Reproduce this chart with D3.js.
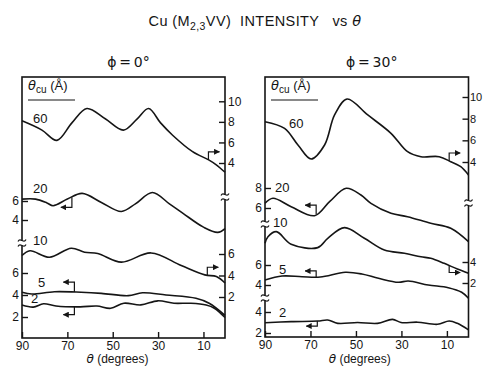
<!DOCTYPE html>
<html>
<head>
<meta charset="utf-8">
<script src="https://cdn.jsdelivr.net/npm/d3@7"></script>
<style>
  body { margin: 0; background: #fff; }
  svg { font-family: "Liberation Sans", Arial, sans-serif; }
</style>
</head>
<body>
<svg id="chart" width="483" height="366"></svg>
<script>
// theta (degrees) and intensity

// phi = 0
const th0_60 = [90, 81.2, 74.6, 68.0, 61.4, 53.3, 45.3, 39.2, 34.2, 28.9, 23.6, 14.8, 7.7, 4.2, 0.5];
const i0_60  = [8.1, 7.2, 6.2, 7.9, 9.3, 8.3, 7.2, 8.3, 9.3, 7.9, 6.7, 5.1, 4.3, 3.8, 3.1];
const th0_20 = [90, 84, 79, 76.3, 70, 63.5, 55, 46.2, 40, 32.5, 25, 19, 10, 3.7, 0.5];
const i0_20  = [6.2, 6.2, 5.8, 5.5, 6.2, 6.8, 5.85, 4.9, 5.7, 6.9, 5.7, 4.7, 3.25, 2.7, 3.1];
const th0_10 = [90, 86.5, 77.9, 68.3, 62.4, 56.6, 46.2, 33.1, 19.8, 9.4, 4.3, 0.5];
const i0_10  = [5.86, 6.3, 5.7, 6.54, 6.17, 6.05, 5.24, 6.1, 4.93, 4.06, 3.9, 3.3];
const th0_5  = [90, 85.7, 75.7, 63.9, 55, 43.1, 36.9, 26.5, 13.3, 7.5, 0.5];
const i0_5   = [4.25, 4.09, 4.3, 4.25, 4.15, 3.94, 4.2, 4.0, 3.7, 3.25, 2.15];
const th0_2  = [90, 85, 80.5, 75, 64.3, 57, 50.9, 45.1, 37.6, 30.1, 23, 15.5, 8.8, 5.2, 0.5];
const i0_2   = [3.09, 2.9, 3.2, 3.0, 2.92, 3.0, 2.79, 3.25, 3.1, 3.47, 3.25, 3.25, 3.09, 2.8, 1.95];

// phi = 30
const th30_60 = [90, 81.4, 75.5, 69.7, 63.8, 59.4, 53.9, 44.8, 34.6, 27.3, 21.4, 13.4, 8.3, 3.9, 0.5];
const i30_60  = [7.72, 7.1, 5.57, 4.28, 5.57, 8.34, 9.82, 8.34, 6.65, 4.95, 4.49, 4.49, 4.03, 3.57, 2.8];
const th30_20 = [90, 86.5, 78.5, 68.2, 61.6, 54.3, 47.8, 43.4, 34.6, 27.3, 17.1, 8.3, 0.5];
const i30_20  = [6.47, 6.97, 6.13, 5.23, 6.63, 7.97, 7.3, 6.47, 5.47, 5.13, 4.47, 3.97, 2.63];
const th30_10 = [90, 88.7, 85, 78.5, 66.8, 62.4, 55, 46.3, 37.5, 28.7, 21.4, 17.1, 11.2, 5.4, 0.5];
const i30_10  = [5.78, 6.4, 6.89, 5.69, 5.37, 6.26, 7.27, 6.26, 5.14, 4.83, 4.5, 4.35, 3.87, 3.33, 2.92];
const th30_5  = [90, 82.5, 73.7, 65.7, 54.7, 47.4, 40.1, 31.3, 27, 18.2, 9.4, 3.5, 0.5];
const i30_5   = [4.5, 4.9, 4.83, 4.8, 5.27, 5.1, 4.67, 4.27, 4.4, 4.0, 3.73, 3.27, 2.67];
const th30_2  = [90, 78.5, 66.8, 62.4, 58, 49.3, 40.5, 33.9, 30.2, 22.9, 14.1, 9, 5.4, 0.5];
const i30_2   = [2.98, 3.08, 3.14, 3.24, 2.92, 3.0, 2.92, 3.3, 3.0, 3.03, 2.83, 3.14, 2.92, 2.29];

const thetaTicks = [90, 70, 50, 30, 10];
const thetaDomain = [90, 0.5];

const svg = d3.select('#chart');
const ink = '#151515';
const fmt = d3.format('d');

svg.append('defs').append('marker')
  .attr('id', 'head').attr('viewBox', '0 0 10 10')
  .attr('refX', 9).attr('refY', 5)
  .attr('markerWidth', 6).attr('markerHeight', 6)
  .attr('markerUnits', 'userSpaceOnUse')
  .attr('orient', 'auto')
  .append('path').attr('d', 'M0,0L10,5L0,10Z').attr('fill', ink);

// title
const title = svg.append('text')
  .attr('x', 255).attr('y', 26)
  .attr('text-anchor', 'middle')
  .attr('font-size', 14.5)
  .attr('letter-spacing', 0.4)
  .attr('fill', ink)
  .attr('xml:space', 'preserve');
title.append('tspan').text('Cu (M');
title.append('tspan').attr('font-size', 10.5).attr('dy', 4).text('2,3');
title.append('tspan').attr('dy', -4).text('VV)  INTENSITY   vs ');
title.append('tspan').attr('font-style', 'italic').attr('font-family', 'DejaVu Sans').text('θ');

const panels = [
  {
    phi: '0°', x0: 22, x1: 225, top: 77, bottom: 338,
    scales: {
      a: { dom: [4, 10], rng: [163, 101.3], side: 'right', ticks: [4, 6, 8, 10] },
      b: { dom: [4, 6], rng: [220, 201], side: 'left', ticks: [4, 6] },
      c: { dom: [2, 6], rng: [297, 254], side: 'right', ticks: [2, 4, 6] },
      d: { dom: [2, 6], rng: [317, 273], side: 'left', ticks: [2, 4, 6] }
    },
    curves: [
      { name: '60', th: th0_60, v: i0_60, s: 'a', lab: [33, 123], arr: [7.8, -8, 1] },
      { name: '20', th: th0_20, v: i0_20, s: 'b', lab: [33, 193], arr: [68, 10, -1] },
      { name: '10', th: th0_10, v: i0_10, s: 'c', lab: [33, 245], arr: [8.3, -8, 1] },
      { name: '5', th: th0_5, v: i0_5, s: 'd', lab: [38, 287], arr: [66.9, -10, -1] },
      { name: '2', th: th0_2, v: i0_2, s: 'd', lab: [31, 303], arr: [66.9, 8, -1] }
    ],
    breaks: [[225, 197], [22, 243]],
    xlabelShift: -6,
    rightPad: 3, rightFont: 12
  },
  {
    phi: '30°', x0: 265, x1: 468.5, top: 77, bottom: 337,
    scales: {
      a: { dom: [4, 10], rng: [162, 97], side: 'right', ticks: [4, 6, 8, 10] },
      b: { dom: [6, 8], rng: [208, 188], side: 'left', ticks: [6, 8] },
      c: { dom: [2, 4], rng: [283, 262], side: 'right', ticks: [2, 4] },
      d: { dom: [4, 6], rng: [285, 265], side: 'left', ticks: [4, 6] },
      e: { dom: [2, 4], rng: [333, 312], side: 'left', ticks: [2, 4] }
    },
    curves: [
      { name: '60', th: th30_60, v: i30_60, s: 'a', lab: [289, 128], arr: [9, -8, 1] },
      { name: '20', th: th30_20, v: i30_20, s: 'b', lab: [275, 192], arr: [67.5, -9, -1] },
      { name: '10', th: th30_10, v: i30_10, s: 'c', lab: [273, 227], arr: [9, 7, 1] },
      { name: '5', th: th30_5, v: i30_5, s: 'd', lab: [279, 274], arr: [67.5, -6, -1] },
      { name: '2', th: th30_2, v: i30_2, s: 'e', lab: [279, 317], arr: [67, 5, -1] }
    ],
    breaks: [[468.5, 203], [265, 224], [265, 298]],
    xlabelShift: -7,
    rightPad: 1.5, rightFont: 11
  }
];

function valueAt(th, v, t) {
  for (let i = 0; i < th.length - 1; i++) {
    if (th[i] >= t && t >= th[i + 1]) {
      const f = (th[i] - t) / (th[i] - th[i + 1]);
      return v[i] + f * (v[i + 1] - v[i]);
    }
  }
  return v[v.length - 1];
}

panels.forEach(p => {
  const g = svg.append('g');
  const x = d3.scaleLinear().domain(thetaDomain).range([p.x0, p.x1]);
  const ys = {};
  Object.entries(p.scales).forEach(([k, s]) => {
    ys[k] = d3.scaleLinear().domain(s.dom).range(s.rng);
  });

  // panel heading
  g.append('text')
    .attr('x', (p.x0 + p.x1) / 2 + 5).attr('y', 67)
    .attr('text-anchor', 'middle').attr('font-size', 14).attr('fill', ink)
    .style('font-family', '"DejaVu Sans", sans-serif')
    .text('ϕ\u2009=\u2009' + p.phi);

  // frame
  g.append('rect')
    .attr('x', p.x0).attr('y', p.top)
    .attr('width', p.x1 - p.x0).attr('height', p.bottom - p.top)
    .attr('fill', 'none').attr('stroke', ink).attr('stroke-width', 1.6);

  // bottom axis
  const xa = g.append('g')
    .attr('transform', `translate(0,${p.bottom})`)
    .call(d3.axisBottom(x).tickValues(thetaTicks).tickFormat(fmt).tickSize(-6).tickPadding(3));
  xa.select('.domain').remove();
  xa.selectAll('line').attr('stroke', ink).attr('stroke-width', 1.4);
  xa.selectAll('text').attr('font-size', 12).attr('fill', ink)
    .style('font-family', '"Liberation Sans", Arial, sans-serif');

  const xl = g.append('text')
    .attr('x', (p.x0 + p.x1) / 2 + p.xlabelShift).attr('y', 363)
    .attr('text-anchor', 'middle').attr('font-size', 12).attr('fill', ink);
  xl.append('tspan').attr('font-style', 'italic').attr('font-family', 'DejaVu Sans').text('θ');
  xl.append('tspan').text(' (degrees)');

  // y axes
  Object.entries(p.scales).forEach(([k, s]) => {
    const left = s.side === 'left';
    const ax = left ? d3.axisLeft(ys[k]) : d3.axisRight(ys[k]);
    const ag = g.append('g')
      .attr('transform', `translate(${left ? p.x0 : p.x1},0)`)
      .call(ax.tickValues(s.ticks).tickFormat(fmt).tickSize(-6).tickPadding(left ? 3 : p.rightPad));
    ag.select('.domain').remove();
    ag.selectAll('line').attr('stroke', ink).attr('stroke-width', 1.4);
    ag.selectAll('text').attr('font-size', left ? 12 : p.rightFont).attr('fill', ink)
      .style('font-family', '"Liberation Sans", Arial, sans-serif');
  });

  // axis breaks
  p.breaks.forEach(([bx, by]) => {
    g.append('rect').attr('x', bx - 2).attr('y', by - 2.5).attr('width', 4).attr('height', 5).attr('fill', '#fff');
    [-2.5, 2.5].forEach(o => {
      g.append('path')
        .attr('d', `M${bx - 4},${by + o + 1}C${bx - 1.5},${by + o - 4} ${bx + 1.5},${by + o + 4} ${bx + 4},${by + o - 1}`)
        .attr('fill', 'none').attr('stroke', ink).attr('stroke-width', 1.2);
    });
  });

  // theta_cu key
  const key = g.append('text')
    .attr('x', p.x0 + 6).attr('y', 90)
    .attr('font-size', 13).attr('fill', ink)
    .attr('xml:space', 'preserve');
  key.append('tspan').attr('font-style', 'italic').attr('font-family', 'DejaVu Sans').text('θ');
  key.append('tspan').attr('font-size', 10).attr('dy', 3).text('cu');
  key.append('tspan').attr('dy', -3).text(' (Å)');
  g.append('line')
    .attr('x1', p.x0 + 6).attr('x2', p.x0 + 53).attr('y1', 100).attr('y2', 100)
    .attr('stroke', ink).attr('stroke-width', 1.2);

  // curves
  p.curves.forEach(c => {
    const y = ys[c.s];
    const pts = c.th.map((t, i) => [t, c.v[i]]);
    const line = d3.line()
      .x(d => x(d[0]))
      .y(d => y(d[1]))
      .curve(d3.curveCatmullRom.alpha(0.5));
    g.append('path')
      .datum(pts)
      .attr('fill', 'none')
      .attr('stroke', ink)
      .attr('stroke-width', 1.6)
      .attr('d', line);

    g.append('text')
      .attr('x', c.lab[0]).attr('y', c.lab[1])
      .attr('font-size', 13).attr('fill', ink)
      .text(c.name);

    // axis-pointer arrow
    const [at, dy, dir] = c.arr;
    const ax0 = x(at);
    const ay0 = y(valueAt(c.th, c.v, at));
    g.append('path')
      .attr('d', `M${ax0},${ay0}V${ay0 + dy}H${ax0 + dir * 11}`)
      .attr('fill', 'none').attr('stroke', ink).attr('stroke-width', 1.2)
      .attr('marker-end', 'url(#head)');
  });
});
</script>
</body>
</html>
